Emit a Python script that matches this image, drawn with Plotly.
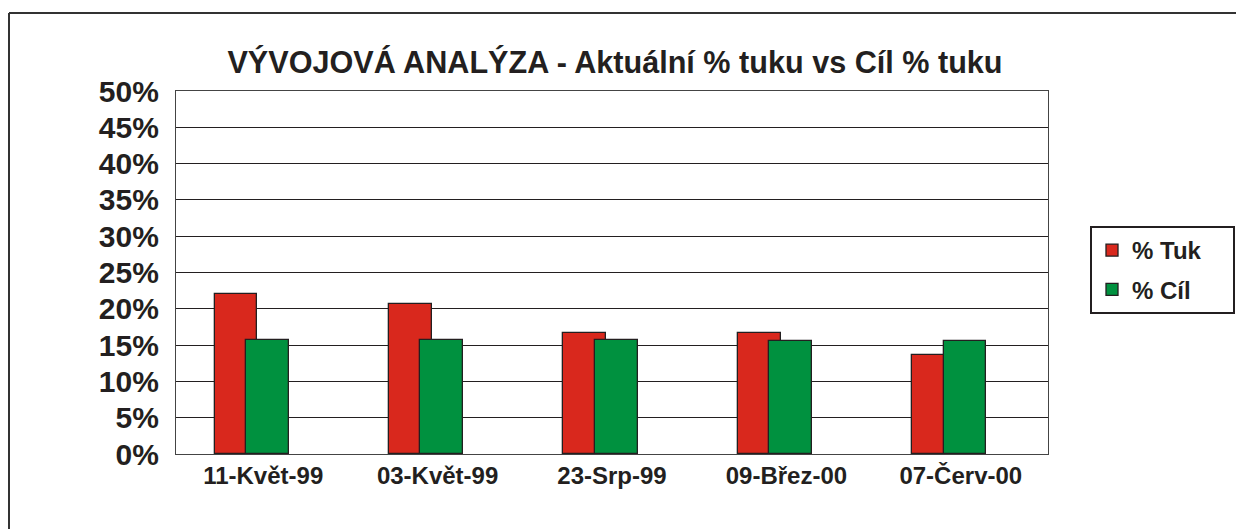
import plotly.graph_objects as go

categories = ["11-Květ-99", "03-Květ-99", "23-Srp-99", "09-Břez-00", "07-Červ-00"]
tuk = [0.220, 0.207, 0.167, 0.166, 0.136]
cil = [0.157, 0.157, 0.157, 0.156, 0.156]
series_names = ["% Tuk", "% Cíl"]
y_ticks = [i * 0.05 for i in range(11)]

FONT = "Liberation Sans, Arial, sans-serif"
INK = "#231f20"
W, H = 1244, 529
OFF = 8  # page body margin offset
L, R, T, B = 176 - OFF, 196 + OFF, 91 - OFF, 75 + OFF
PW, PH = W - L - R, H - T - B

fig = go.Figure()
fig.add_trace(go.Bar(
    x=categories, y=tuk, name=series_names[0] + "\u00a0" * 4,
    marker=dict(color="#d9281d", line=dict(color=INK, width=1.3)),
    offset=-0.279, width=0.246, legendgroup="a",
))
fig.add_trace(go.Bar(
    x=categories, y=cil, name=series_names[1] + "\u00a0" * 5,
    marker=dict(color="#00913f", line=dict(color=INK, width=1.3)),
    offset=-0.099, width=0.246, legendgroup="b",
))

def px_to_paper_x(px):
    return (px - OFF - L) / PW

def px_to_paper_y(py):
    return (H - B - (py - OFF)) / PH

fig.update_layout(
    width=W, height=H,
    margin=dict(l=L, r=R, t=T, b=B, autoexpand=False),
    paper_bgcolor="white", plot_bgcolor="white",
    barmode="overlay",
    bargap=0,
    font=dict(family=FONT, color=INK, weight="bold"),
    title=dict(
        text="VÝVOJOVÁ ANALÝZA - Aktuální % tuku vs Cíl % tuku",
        font=dict(family=FONT, size=30.6, color=INK, weight="bold"),
        x=px_to_paper_x(615), xref="paper", xanchor="center",
        y=1 - (62 - OFF) / H, yref="container", yanchor="middle",
    ),
    xaxis=dict(
        type="category", range=[-0.5, 4.5],
        showline=True, linecolor="#444", linewidth=1.2, mirror=True,
        showgrid=False, ticks="",
        tickfont=dict(family=FONT, size=24, color=INK, weight="bold"),
    ),
    yaxis=dict(
        range=[0, 0.5], tickvals=y_ticks, tickformat=".0%",
        showgrid=True, gridcolor=INK, gridwidth=1,
        showline=True, linecolor="#444", linewidth=1.2, mirror=True,
        zeroline=False, ticks="", ticklabelstandoff=10,
        tickfont=dict(family=FONT, size=30, color=INK, weight="bold"),
    ),
    legend=dict(
        x=px_to_paper_x(1090), y=px_to_paper_y(226),
        xanchor="left", yanchor="top",
        bordercolor=INK, borderwidth=2, bgcolor="white",
        font=dict(family=FONT, size=24, color=INK, weight="bold"),
        tracegroupgap=5, traceorder="grouped", itemwidth=30,
    ),
    showlegend=True,
)

# outer chart-area border (top and left edges visible in the frame)
fig.add_shape(type="line", xref="paper", yref="paper",
              x0=px_to_paper_x(9), x1=px_to_paper_x(W + 20),
              y0=px_to_paper_y(13), y1=px_to_paper_y(13),
              line=dict(color="#333", width=2))
fig.add_shape(type="line", xref="paper", yref="paper",
              x0=px_to_paper_x(9), x1=px_to_paper_x(9),
              y0=px_to_paper_y(13), y1=px_to_paper_y(H + 20),
              line=dict(color="#333", width=2))

fig.write_html("out.html")
